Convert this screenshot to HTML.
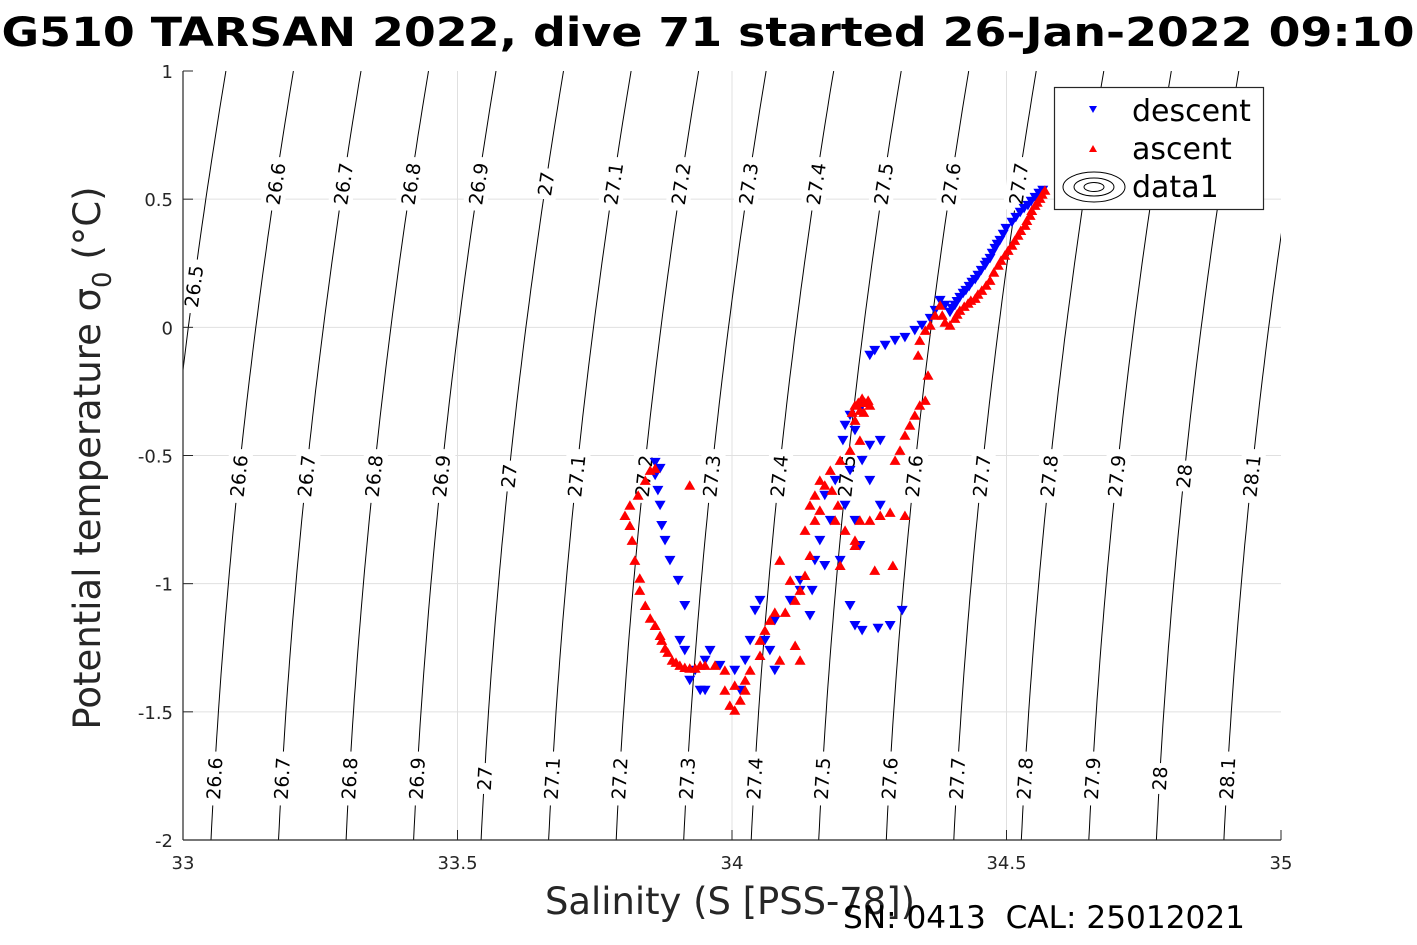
<!DOCTYPE html>
<html><head><meta charset="utf-8"><style>
html,body{margin:0;padding:0;background:#fff;}
svg{display:block;font-family:"DejaVu Sans","Liberation Sans",sans-serif;}
</style></head><body>
<svg id="chart" width="1417" height="945" viewBox="0 0 1417 945" xmlns="http://www.w3.org/2000/svg">
<defs><clipPath id="plotclip"><rect x="183" y="71" width="1098" height="769"/></clipPath></defs>
<rect x="0" y="0" width="1417" height="945" fill="#fff"/>
<text x="708" y="46" text-anchor="middle" font-size="40" font-weight="bold" textLength="1413" lengthAdjust="spacingAndGlyphs">G510 TARSAN 2022, dive 71 started 26-Jan-2022 09:10</text>
<g id="grid"></g>
<g id="contours" clip-path="url(#plotclip)"></g>
<g id="clabels"></g>
<g id="series"></g>
<g id="axes"></g>
<text x="730" y="914" text-anchor="middle" font-size="37" fill="#262626" textLength="370" lengthAdjust="spacingAndGlyphs">Salinity (S [PSS-78])</text>
<text transform="translate(100,458) rotate(-90)" text-anchor="middle" font-size="37" fill="#262626">Potential temperature σ<tspan font-size="26" dy="11">0</tspan><tspan dy="-11"> (°C)</tspan></text>
<text x="843" y="928" font-size="31" fill="#000" textLength="402" lengthAdjust="spacingAndGlyphs" xml:space="preserve" style="white-space:pre">SN: 0413  CAL: 25012021</text>
<g>
<rect x="1054.5" y="87.5" width="209" height="122" fill="#fff" stroke="#262626" stroke-width="1.2"/>
<g>
<polygon points="1089,106 1097,106 1093,113" fill="#00f"/>
<text x="1132" y="121" font-size="30">descent</text></g>
<g>
<polygon points="1089,152 1097,152 1093,145" fill="#f00"/>
<text x="1132" y="159" font-size="30">ascent</text></g>
<g fill="none" stroke="#000" stroke-width="1">
<ellipse cx="1094" cy="187" rx="31" ry="15"/><ellipse cx="1094" cy="187" rx="20" ry="9"/><ellipse cx="1094" cy="187" rx="10" ry="4.5"/>
<text x="1132" y="197" font-size="30" fill="#000" stroke="none">data1</text></g>
</g>
</svg>
<script>
const xTicks=[33,33.5,34,34.5,35];
const xTickLabels=["33","33.5","34","34.5","35"];
const yTicks=[1,0.5,0,-0.5,-1,-1.5,-2];
const yTickLabels=["1","0.5","0","-0.5","-1","-1.5","-2"];
const sigmaLevels=[26.5,26.6,26.7,26.8,26.9,27,27.1,27.2,27.3,27.4,27.5,27.6,27.7,27.8,27.9,28,28.1];
const labelTop=[26.6,26.7,26.8,26.9,27,27.1,27.2,27.3,27.4,27.5,27.6,27.7];
const labelMid=[26.6,26.7,26.8,26.9,27,27.1,27.2,27.3,27.4,27.5,27.6,27.7,27.8,27.9,28,28.1];
const labelBot=[26.6,26.7,26.8,26.9,27,27.1,27.2,27.3,27.4,27.5,27.6,27.7,27.8,27.9,28,28.1];
const descentS=[34.566,34.552,34.539,34.525,34.510,34.499,34.488,34.479,34.470,34.461,34.448,34.437,34.426,34.415,34.406,34.397,34.388,34.379,34.370,34.361,34.346,34.333,34.315,34.297,34.279,34.260,34.251,34.237,34.215,34.206,34.202,34.224,34.251,34.270,34.237,34.215,34.188,34.179,34.160,34.151,34.169,34.206,34.224,34.270,34.251,34.233,34.197,34.169,34.124,34.106,34.142,34.124,34.146,34.215,34.224,34.237,34.266,34.288,34.310,34.078,34.069,34.051,34.042,34.060,34.078,34.033,34.024,34.015,34.005,33.978,33.960,33.951,33.933,33.942,33.923,33.951,33.905,33.914,33.914,33.902,33.887,33.878,33.872,33.869,33.865,33.860,33.860,33.869,
34.559,34.545,34.532,34.517,34.494,34.483,34.474,34.464,34.454,34.443,34.432,34.421,34.410,34.401];
const descentT=[0.535,0.507,0.476,0.449,0.410,0.386,0.339,0.308,0.269,0.242,0.203,0.176,0.144,0.117,0.086,0.059,0.086,0.105,0.066,0.035,0.008,-0.012,-0.039,-0.051,-0.070,-0.090,-0.109,-0.304,-0.343,-0.382,-0.441,-0.402,-0.460,-0.441,-0.519,-0.558,-0.597,-0.753,-0.831,-0.909,-0.655,-0.694,-0.753,-0.694,-0.597,-0.851,-0.909,-0.929,-1.026,-1.065,-1.124,-0.987,-1.026,-1.085,-1.163,-1.182,-1.174,-1.163,-1.104,-1.143,-1.260,-1.065,-1.104,-1.221,-1.338,-1.221,-1.299,-1.416,-1.338,-1.319,-1.260,-1.299,-1.338,-1.416,-1.377,-1.416,-1.221,-1.260,-1.085,-0.987,-0.909,-0.831,-0.773,-0.694,-0.636,-0.577,-0.527,-0.550,
0.523,0.492,0.464,0.429,0.363,0.324,0.289,0.254,0.222,0.187,0.160,0.133,0.101,0.074];
const ascentS=[34.570,34.561,34.552,34.543,34.534,34.521,34.510,34.497,34.485,34.470,34.455,34.443,34.430,34.415,34.406,34.397,34.388,34.383,34.379,34.370,34.361,34.352,34.342,34.339,34.357,34.352,34.342,34.333,34.324,34.315,34.306,34.297,34.224,34.242,34.251,34.233,34.224,34.233,34.215,34.197,34.179,34.169,34.151,34.142,34.160,34.188,34.206,34.224,34.233,34.251,34.270,34.288,34.315,34.293,34.260,34.224,34.197,34.142,34.133,34.124,34.115,34.097,34.106,34.087,34.115,34.124,34.087,34.060,34.051,34.033,34.024,34.015,34.005,33.996,33.987,34.005,34.024,33.987,33.969,33.942,33.923,33.905,33.891,33.878,33.869,33.851,33.842,33.832,33.832,33.823,33.818,33.814,33.805,33.814,33.829,33.842,33.851,33.860,33.923,34.051,34.069,34.078,
34.565,34.556,34.546,34.537,34.526,34.515,34.503,34.490,34.477,34.463,34.448,34.435,34.423,34.410,
34.230,34.237,34.248,34.219,34.240,
33.860,33.872,33.883,33.898,33.914,33.933,33.951,
34.160,34.182,34.151,34.133,34.193];
const ascentT=[0.535,0.503,0.476,0.437,0.398,0.359,0.320,0.281,0.242,0.183,0.144,0.113,0.094,0.066,0.035,0.008,0.020,0.047,0.086,0.047,0.008,-0.012,-0.051,-0.109,-0.187,-0.285,-0.304,-0.343,-0.382,-0.421,-0.480,-0.519,-0.304,-0.293,-0.304,-0.324,-0.363,-0.441,-0.480,-0.519,-0.558,-0.616,-0.655,-0.694,-0.714,-0.753,-0.792,-0.831,-0.753,-0.753,-0.734,-0.722,-0.734,-0.929,-0.948,-0.851,-0.929,-0.890,-0.968,-1.026,-1.065,-1.112,-0.987,-0.909,-1.241,-1.299,-1.299,-1.182,-1.280,-1.338,-1.416,-1.455,-1.494,-1.475,-1.416,-1.397,-1.377,-1.338,-1.319,-1.319,-1.330,-1.319,-1.299,-1.252,-1.202,-1.135,-1.085,-1.026,-0.979,-0.909,-0.831,-0.773,-0.734,-0.694,-0.655,-0.597,-0.558,-0.550,-0.616,-1.221,-1.143,-1.112,
0.519,0.488,0.456,0.417,0.378,0.339,0.300,0.261,0.215,0.164,0.129,0.105,0.082,0.051,
-0.293,-0.277,-0.285,-0.332,-0.332,
-1.163,-1.221,-1.268,-1.307,-1.327,-1.330,-1.319,
-0.597,-0.636,-0.753,-0.792,-0.694];

const NS='http://www.w3.org/2000/svg';
const X0=183,X1=1281,Y0=840,Y1=71;
function xs(s){return X0+(s-33)/(35-33)*(X1-X0);}
function ys(t){return Y0-(t-(-2))/(1-(-2))*(Y0-Y1);}
function salAt(sig,t){const d=t+2;return 33.051+(sig-26.6)*1.23+(12.3*d+5.06*d*d)/549;}
function mk(tag,attrs,parent){const e=document.createElementNS(NS,tag);for(const k in attrs)e.setAttribute(k,attrs[k]);parent.appendChild(e);return e;}

const grid=document.getElementById('grid');
xTicks.forEach((v,i)=>{if(i>0&&i<xTicks.length-1){const l=mk('line',{x1:xs(v),x2:xs(v),y1:Y1,y2:Y0,stroke:'#e0e0e0','stroke-width':1},grid);

}});
yTicks.forEach((v,i)=>{if(i>0&&i<yTicks.length-1){const l=mk('line',{x1:X0,x2:X1,y1:ys(v),y2:ys(v),stroke:'#e0e0e0','stroke-width':1},grid);

}});

const cg=document.getElementById('contours');
sigmaLevels.forEach(sig=>{let pts=[];for(let t=-2;t<=1.0001;t+=0.05){pts.push(xs(salAt(sig,t)).toFixed(1)+','+ys(t).toFixed(1));}
const p=mk('polyline',{points:pts.join(' '),fill:'none',stroke:'#000','stroke-width':1},cg);

});

const lg=document.getElementById('clabels');
function addLabel(sig,t){const x=xs(salAt(sig,t)),y=ys(t);const d=t+2;const dx=12.3+10.12*d;const ang=-(90-Math.atan(dx/256.3)*180/Math.PI);
const g=mk('g',{transform:'translate('+x.toFixed(1)+','+y.toFixed(1)+') rotate('+ang.toFixed(1)+')'},lg);


const txt=String(sig);const w=txt.length*11.5+8;
mk('rect',{x:-w/2,y:-12,width:w,height:24,fill:'#fff'},g);
const te=mk('text',{x:0,y:7,'text-anchor':'middle','font-size':19,fill:'#000'},g);te.textContent=txt;}
addLabel(26.5,0.16);
labelTop.forEach(s=>addLabel(s,0.56));
labelMid.forEach(s=>addLabel(s,-0.58));
labelBot.forEach(s=>addLabel(s,-1.76));

const sg=document.getElementById('series');
const dg=mk('g',{fill:'#0000ff'},sg);


descentS.forEach((s,i)=>{const x=xs(s),y=ys(descentT[i]);const p=mk('polygon',{points:(x-5.5)+','+(y-4.5)+' '+(x+5.5)+','+(y-4.5)+' '+x+','+(y+5)},dg);

});
const ag=mk('g',{fill:'#ff0000'},sg);


ascentS.forEach((s,i)=>{const x=xs(s),y=ys(ascentT[i]);const p=mk('polygon',{points:(x-5.5)+','+(y+4.5)+' '+(x+5.5)+','+(y+4.5)+' '+x+','+(y-5)},ag);

});

const ax=document.getElementById('axes');
mk('line',{x1:X0,x2:X0,y1:Y1,y2:Y0,stroke:'#262626','stroke-width':1.2},ax);
mk('line',{x1:X0,x2:X1,y1:Y0,y2:Y0,stroke:'#262626','stroke-width':1.2},ax);
xTicks.forEach((v,i)=>{mk('line',{x1:xs(v),x2:xs(v),y1:Y0,y2:Y0-10,stroke:'#262626','stroke-width':1},ax);
const t=mk('text',{x:xs(v),y:869,'text-anchor':'middle','font-size':18,fill:'#262626'},ax);t.textContent=xTickLabels[i];

});
yTicks.forEach((v,i)=>{mk('line',{x1:X0,x2:X0+10,y1:ys(v),y2:ys(v),stroke:'#262626','stroke-width':1},ax);
const t=mk('text',{x:173,y:ys(v)+7,'text-anchor':'end','font-size':18,fill:'#262626'},ax);t.textContent=yTickLabels[i];

});
</script>
</body></html>
